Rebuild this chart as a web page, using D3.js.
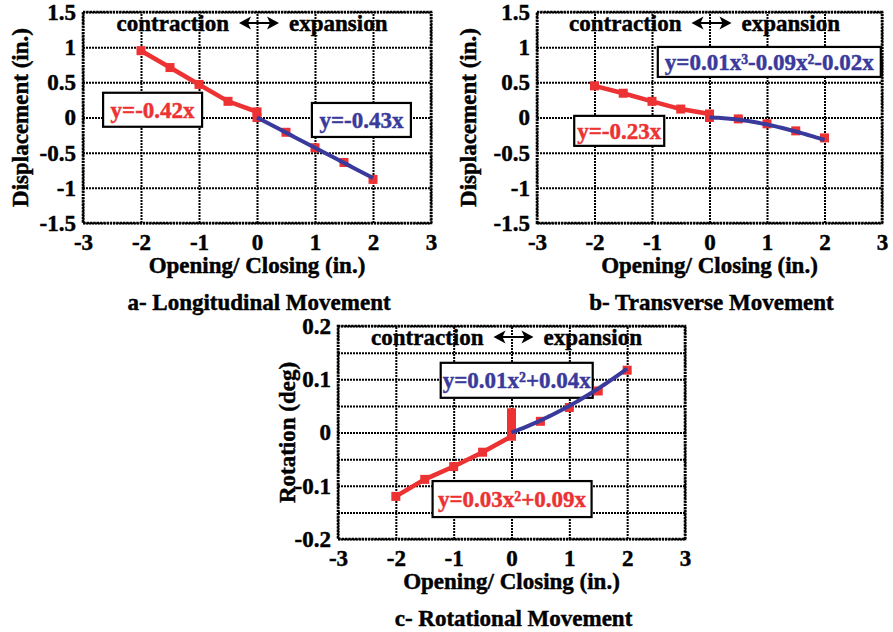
<!DOCTYPE html>
<html>
<head>
<meta charset="utf-8">
<script src="https://cdn.jsdelivr.net/npm/d3@7"></script>
<style>
  body { margin: 0; background: #fff; }
  svg text { font-family: "Liberation Serif", "Times New Roman", serif; font-weight: bold; fill: #000;
             stroke: currentColor; stroke-width: 0.45px; }
</style>
</head>
<body>
<svg id="fig" width="893" height="632"></svg>
<script>
// Shared axis settings
const xTicks = [-3, -2, -1, 0, 1, 2, 3];
const xTickLabels = ["-3", "-2", "-1", "0", "1", "2", "3"];
const dispTicks = [-1.5, -1, -0.5, 0, 0.5, 1, 1.5];
const dispTickLabels = ["-1.5", "-1", "-0.5", "0", "0.5", "1", "1.5"];
const rotTicks = [-0.2, -0.1, 0, 0.1, 0.2];
const rotTickLabels = ["-0.2", "-0.1", "0", "0.1", "0.2"];
const rotGrid = [-0.2, -0.15, -0.1, -0.05, 0, 0.05, 0.1, 0.15, 0.2];
const fitRange = [0, 2];

// a- Longitudinal movement (in.)
const longContractionX = [-2, -1.5, -1, -0.5, 0, 0];
const longContractionY = [0.95, 0.71, 0.47, 0.23, 0.08, 0];
const longExpansionX = [0.5, 1, 1.5, 2];
const longExpansionY = [-0.21, -0.43, -0.64, -0.88];
const longFitCoef = [-0.43];            // y = -0.43x

// b- Transverse movement (in.)
const transContractionX = [-2, -1.5, -1, -0.5, 0, 0];
const transContractionY = [0.45, 0.345, 0.23, 0.12, 0.05, 0];
const transExpansionX = [0.5, 1, 1.5, 2];
const transExpansionY = [-0.02, -0.09, -0.19, -0.29];
const transFitCoef = [-0.02, -0.09, 0.01];  // y = 0.01x^3 - 0.09x^2 - 0.02x

// c- Rotational movement (deg)
const rotContractionX = [-2, -1.5, -1, -0.5, 0, 0, 0, 0, 0];
const rotContractionY = [-0.12, -0.088, -0.064, -0.037, -0.007, 0, 0.012, 0.025, 0.037];
const rotExpansionX = [0.5, 1, 1.5, 2];
const rotExpansionY = [0.021, 0.047, 0.078, 0.117];
const rotFitCoef = [0.04, 0.01];            // y = 0.01x^2 + 0.04x

const RED = "#ec3232";
const BLUE = "#3a3a9c";

const panels = [
  {
    frame: { left: 83, top: 12, width: 348, height: 211 },
    yDomain: [-1.5, 1.5], yTicks: dispTicks, yLabels: dispTickLabels, yGrid: dispTicks,
    yTitle: "Displacement (in.)", yTitleX: 20, caption: "a- Longitudinal Movement",
    cx: longContractionX, cy: longContractionY, ex: longExpansionX, ey: longExpansionY, fit: longFitCoef,
    notes: [
      { text: "y=-0.42x", color: RED, x: -1.8, y: 0.11, w: 99, h: 34 },
      { text: "y=-0.43x", color: BLUE, x: 1.8, y: -0.035, w: 99, h: 34 }
    ]
  },
  {
    frame: { left: 537, top: 12, width: 345, height: 211 },
    yDomain: [-1.5, 1.5], yTicks: dispTicks, yLabels: dispTickLabels, yGrid: dispTicks,
    yTitle: "Displacement (in.)", yTitleX: 468, caption: "b- Transverse Movement",
    cx: transContractionX, cy: transContractionY, ex: transExpansionX, ey: transExpansionY, fit: transFitCoef,
    notes: [
      { text: "y=0.01x³-0.09x²-0.02x", color: BLUE, x: 1.04, y: 0.79, w: 223, h: 30 },
      { text: "y=-0.23x", color: RED, x: -1.57, y: -0.19, w: 90, h: 30 }
    ]
  },
  {
    frame: { left: 338, top: 326, width: 347, height: 213 },
    yDomain: [-0.2, 0.2], yTicks: rotTicks, yLabels: rotTickLabels, yGrid: rotGrid,
    yTitle: "Rotation (deg)", yTitleX: 287, caption: "c- Rotational Movement",
    cx: rotContractionX, cy: rotContractionY, ex: rotExpansionX, ey: rotExpansionY, fit: rotFitCoef,
    notes: [
      { text: "y=0.01x²+0.04x", color: BLUE, x: 0.09, y: 0.098, w: 152, h: 35 },
      { text: "y=0.03x²+0.09x", color: RED, x: 0.01, y: -0.125, w: 159, h: 36 }
    ]
  }
];

const svg = d3.select("#fig");

function poly(coef, x) {
  return coef.reduce((s, c, i) => s + c * Math.pow(x, i + 1), 0);
}

function drawPanel(p) {
  const f = p.frame;
  const x = d3.scaleLinear().domain([-3, 3]).range([f.left, f.left + f.width]);
  const y = d3.scaleLinear().domain(p.yDomain).range([f.top + f.height, f.top]);
  const g = svg.append("g");

  // dotted grid
  const gx = g.append("g").attr("transform", `translate(0,${f.top + f.height})`)
    .call(d3.axisBottom(x).tickValues(xTicks).tickSize(-f.height).tickFormat(""));
  const gy = g.append("g").attr("transform", `translate(${f.left},0)`)
    .call(d3.axisLeft(y).tickValues(p.yGrid).tickSize(-f.width).tickFormat(""));
  [gx, gy].forEach(a => {
    a.select(".domain").remove();
    a.selectAll("line").attr("stroke", "#000").attr("stroke-width", 2).attr("stroke-dasharray", "2,1");
  });

  // frame
  g.append("rect").attr("x", f.left).attr("y", f.top).attr("width", f.width).attr("height", f.height)
    .attr("fill", "none").attr("stroke", "#000").attr("stroke-width", 2.6).attr("stroke-dasharray", "2.4,0.9");

  // tick labels
  const lx = g.append("g").attr("transform", `translate(0,${f.top + f.height})`)
    .call(d3.axisBottom(x).tickValues(xTicks).tickSize(0).tickPadding(11)
      .tickFormat((d, i) => xTickLabels[i]));
  const ly = g.append("g").attr("transform", `translate(${f.left},0)`)
    .call(d3.axisLeft(y).tickValues(p.yTicks).tickSize(0).tickPadding(7)
      .tickFormat((d, i) => p.yLabels[i]));
  [lx, ly].forEach(a => {
    a.select(".domain").remove();
    a.selectAll("text").attr("font-size", 23).attr("font-family", null).attr("fill", "#000");
  });

  // axis titles and caption
  const midX = f.left + f.width / 2;
  g.append("text").attr("x", midX).attr("y", f.top + f.height + 50)
    .attr("text-anchor", "middle").attr("font-size", 23).text("Opening/ Closing (in.)");
  g.append("text").attr("x", midX + 2).attr("y", f.top + f.height + 87)
    .attr("text-anchor", "middle").attr("font-size", 23).text(p.caption);
  g.append("text").attr("transform", `translate(${p.yTitleX},${f.top + f.height / 2}) rotate(-90)`)
    .attr("text-anchor", "middle").attr("dy", "0.35em").attr("font-size", 23).text(p.yTitle);

  // contraction <-> expansion header
  const x0 = x(0), hb = f.top + 19;
  g.append("text").attr("x", x0 - 28).attr("y", hb).attr("text-anchor", "end")
    .attr("font-size", 23).text("contraction");
  g.append("text").attr("x", x0 + 32).attr("y", hb).attr("text-anchor", "start")
    .attr("font-size", 23).text("expansion");
  const ay = hb - 8, al = x0 - 18, ar = x0 + 22;
  g.append("line").attr("x1", al + 6).attr("x2", ar - 6).attr("y1", ay).attr("y2", ay)
    .attr("stroke", "#000").attr("stroke-width", 2);
  g.append("path").attr("d", `M${al},${ay} L${al + 12},${ay - 6.5} L${al + 9},${ay} L${al + 12},${ay + 6.5} Z`).attr("fill", "#000");
  g.append("path").attr("d", `M${ar},${ay} L${ar - 12},${ay - 6.5} L${ar - 9},${ay} L${ar - 12},${ay + 6.5} Z`).attr("fill", "#000");

  // equation boxes
  p.notes.forEach(n => {
    const cxp = x(n.x), cyp = y(n.y);
    g.append("rect").attr("x", cxp - n.w / 2).attr("y", cyp - n.h / 2).attr("width", n.w).attr("height", n.h)
      .attr("fill", "#fff").attr("stroke", "#000").attr("stroke-width", 2.2);
    g.append("text").attr("x", cxp).attr("y", cyp + 8).attr("text-anchor", "middle")
      .attr("font-size", 23).style("fill", n.color).style("stroke", n.color).text(n.text);
  });

  // measured data: contraction line, all markers
  const line = d3.line().x(d => x(d[0])).y(d => y(d[1]));
  const cPts = p.cx.map((v, i) => [v, p.cy[i]]);
  const ePts = p.ex.map((v, i) => [v, p.ey[i]]);
  g.append("path").datum(cPts).attr("d", line).attr("fill", "none")
    .attr("stroke", RED).attr("stroke-width", 4.5);
  const ms = 9;
  g.selectAll(null).data(cPts.concat(ePts)).join("rect")
    .attr("x", d => x(d[0]) - ms / 2).attr("y", d => y(d[1]) - ms / 2)
    .attr("width", ms).attr("height", ms).attr("fill", RED);

  // fitted expansion curve
  const fx = d3.range(fitRange[0], fitRange[1] + 1e-9, 0.05);
  g.append("path").datum(fx.map(v => [v, poly(p.fit, v)])).attr("d", line)
    .attr("fill", "none").attr("stroke", BLUE).attr("stroke-width", 4);
}

panels.forEach(drawPanel);
</script>
</body>
</html>
